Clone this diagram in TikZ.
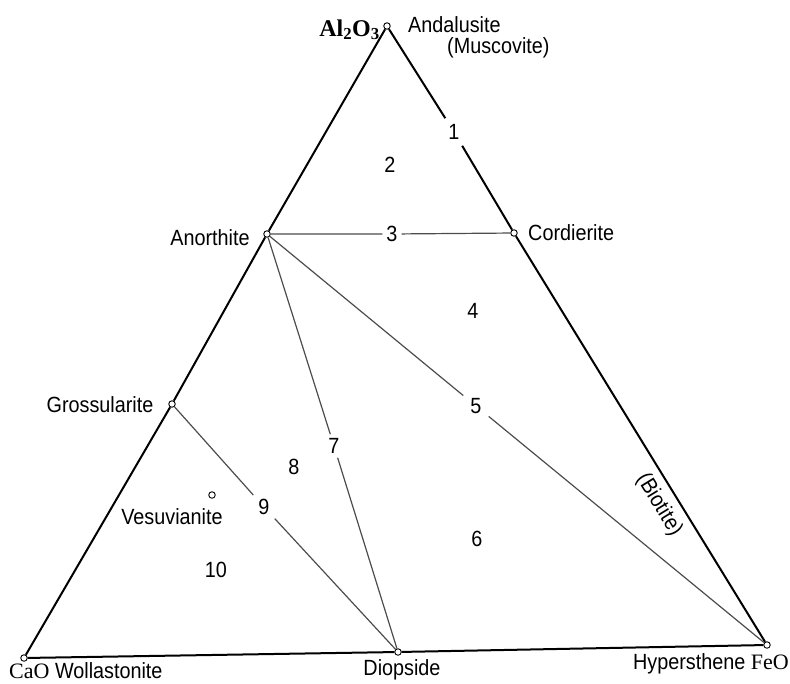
\documentclass[tikz,border=0pt]{standalone}
\usepackage{fontspec}
\setmainfont{Liberation Sans}[FakeStretch=0.9]
\newfontfamily\serifchem{Liberation Serif}
\begin{document}
\begin{tikzpicture}[x=1pt,y=-1pt,
  lbl/.style={font=\fontsize{22}{24}\selectfont, inner sep=0pt},
  num/.style={font=\fontsize{22}{24}\selectfont, inner sep=4pt},
  pt/.style={circle, draw, fill=white, line width=0.9pt, minimum size=6.5pt, inner sep=0pt},
  edgeline/.style={line width=2pt, black},
  tie/.style={line width=1.2pt, black!70}]
\useasboundingbox (0,0) rectangle (790,683);
% phase points
\node[pt] (al) at (387,26) {};
\node[pt] (ca) at (24,658) {};
\node[pt] (di) at (398,652) {};
\node[pt] (fe) at (767,645) {};
\node[pt] (an) at (267,234) {};
\node[pt] (co) at (514,233) {};
\node[pt] (gr) at (172,404) {};
\node[pt] (ve) at (212,495) {};
% numbers on lines
\node[num, inner sep=6pt] (n1) at (454,132) {1};
\node[num] (n3) at (392,234) {3};
\node[num, inner sep=7pt] (n5) at (476,406) {5};
\node[num] (n7) at (334,446) {7};
\node[num, inner sep=5pt] (n9) at (264,507) {9};
% free numbers
\node[num] (n2) at (390,165) {2};
\node[num] (n4) at (473,311) {4};
\node[num] (n6) at (477,539) {6};
\node[num] (n8) at (294,467) {8};
\node[num] (n10) at (216,570) {10};
% outer triangle
\draw[edgeline] (al) -- (an) -- (gr) -- (ca);
\draw[edgeline] (al) -- (n1) -- (co) -- (fe);
\draw[edgeline] (ca) -- (di) -- (fe);
% tie lines
\draw[tie] (an) -- (n3) -- (co);
\draw[tie] (an) -- (n7) -- (di);
\draw[tie] (an) -- (n5) -- (fe);
\draw[tie] (gr) -- (n9) -- (di);
% labels
\node[lbl, font=\serifchem\bfseries\fontsize{24}{26}\selectfont, anchor=base east] (tal) at (380,36) {Al\textsubscript{2}O\textsubscript{3}};
\node[lbl, anchor=base west] (tand) at (408,32) {Andalusite};
\node[lbl, anchor=base west] (tmus) at (447,53) {(Muscovite)};
\node[lbl, anchor=base] (tan) at (210,245) {Anorthite};
\node[lbl, anchor=base west] (tco) at (528,240) {Cordierite};
\node[lbl, anchor=base] (tgr) at (100,412) {Grossularite};
\node[lbl, anchor=base] (tve) at (172,524) {Vesuvianite};
\node[lbl, anchor=base west] (tca) at (9,678) {{\serifchem CaO} Wollastonite};
\node[lbl, anchor=base] (tdi) at (402,675) {Diopside};
\node[lbl, anchor=base east] (tfe) at (789,669) {Hypersthene {\serifchem FeO}};
\node[lbl, rotate=-58.5] (tbi) at (659,505) {(Biotite)};
\end{tikzpicture}
\end{document}
